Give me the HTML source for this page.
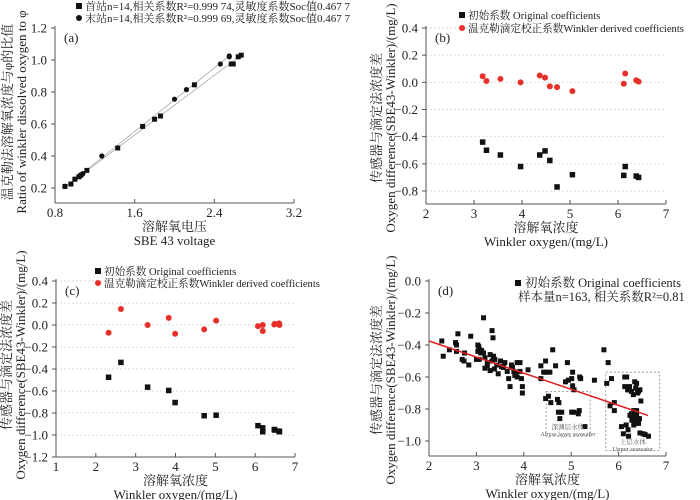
<!DOCTYPE html>
<html><head><meta charset="utf-8"><style>
html,body{margin:0;padding:0;background:#fff;width:700px;height:500px;overflow:hidden}
svg{display:block}
text{font-family:"Liberation Serif","Noto Serif CJK SC",serif;fill:#222}
</style></head><body>
<svg id="fig" width="700" height="500" viewBox="0 0 700 500"></svg>
<script>
// Panel (a)
const aSqX=[0.90,0.96,1.00,1.04,1.06,1.12,1.43,1.68,1.80,1.86,2.20,2.57,2.59,2.64,2.67];
const aSqY=[0.21,0.225,0.255,0.27,0.28,0.31,0.45,0.585,0.63,0.65,0.845,0.975,0.975,1.02,1.03];
const aCiX=[0.90,0.96,1.00,1.05,1.07,1.08,1.27,2.00,2.12,2.46,2.55,2.55];
const aCiY=[0.21,0.225,0.255,0.275,0.285,0.29,0.40,0.755,0.815,0.975,1.02,1.025];
const aLine1=[[0.90,0.205],[2.67,1.03]];
const aLine2=[[0.90,0.205],[2.55,1.025]];
// Panel (b)
const bX=[3.18,3.26,3.55,3.97,4.37,4.48,4.58,4.73,5.05,6.12,6.15,6.38,6.43];
const bRed=[0.045,0.01,0.025,0.0,0.05,0.035,-0.03,-0.035,-0.065,-0.01,0.065,0.015,0.005];
const bBlk=[-0.44,-0.50,-0.535,-0.62,-0.535,-0.505,-0.575,-0.77,-0.68,-0.685,-0.62,-0.69,-0.70];
// Panel (c)
const cX=[2.32,2.63,3.30,3.83,3.99,4.72,5.02,6.07,6.19,6.19,6.48,6.49,6.60,6.61];
const cRed=[-0.07,0.145,0.0,0.065,-0.08,-0.04,0.04,-0.01,0.0,-0.055,0.005,0.01,0.015,0.0];
const cBlk=[-0.475,-0.34,-0.565,-0.595,-0.705,-0.825,-0.82,-0.915,-0.935,-0.97,-0.95,-0.955,-0.965,-0.97];
// Panel (d)
const dX=[2.27,2.30,2.43,2.56,2.58,2.61,2.58,2.70,2.74,2.75,2.84,2.88,3.03,3.05,3.03,3.07,3.09,3.11,3.15,3.15,3.06,3.00,3.18,3.23,3.29,3.23,3.18,3.29,3.33,3.35,3.33,3.36,3.39,3.38,3.43,3.46,3.51,3.53,3.57,3.60,3.65,3.68,3.71,3.74,3.76,3.79,3.81,3.83,3.86,3.86,3.92,3.92,3.95,3.97,3.97,4.09,4.36,4.36,4.42,4.46,4.48,4.55,4.61,4.67,4.88,4.92,4.94,5.01,5.03,5.03,5.06,5.18,5.20,5.49,5.69,5.78,5.85,5.75,4.46,4.52,4.57,4.71,4.74,4.73,4.80,4.76,5.01,5.06,5.17,5.15,5.29,5.82,5.91,5.91,6.10,6.06,6.16,6.17,6.13,6.19,6.23,6.27,6.31,6.36,6.38,6.42,6.45,6.34,6.47,6.27,6.31,6.34,6.38,6.42,6.44,6.32,6.38,6.24,6.20,6.21,6.45,6.56,6.63,6.52,6.13,6.32,6.30,6.35,6.40,6.28,6.22,6.40];
const dY=[-0.375,-0.47,-0.43,-0.385,-0.40,-0.33,-0.44,-0.49,-0.50,-0.45,-0.525,-0.345,-0.40,-0.41,-0.44,-0.43,-0.45,-0.435,-0.45,-0.23,-0.49,-0.49,-0.48,-0.51,-0.46,-0.53,-0.545,-0.56,-0.31,-0.355,-0.50,-0.47,-0.49,-0.55,-0.525,-0.58,-0.50,-0.535,-0.54,-0.51,-0.565,-0.61,-0.66,-0.525,-0.54,-0.565,-0.59,-0.58,-0.51,-0.60,-0.51,-0.565,-0.61,-0.66,-0.70,-0.555,-0.53,-0.61,-0.57,-0.50,-0.57,-0.57,-0.43,-0.53,-0.63,-0.51,-0.62,-0.61,-0.57,-0.655,-0.68,-0.60,-0.61,-0.62,-0.43,-0.51,-0.61,-0.64,-0.735,-0.72,-0.76,-0.74,-0.76,-0.82,-0.82,-0.86,-0.82,-0.82,-0.81,-0.83,-0.91,-0.78,-0.76,-0.81,-0.955,-0.91,-0.90,-0.60,-0.66,-0.68,-0.66,-0.69,-0.71,-0.67,-0.64,-0.69,-0.68,-0.63,-0.75,-0.83,-0.85,-0.87,-0.84,-0.89,-0.86,-0.81,-0.81,-0.84,-0.93,-0.97,-0.95,-0.96,-0.97,-0.955,-0.60,-0.90,-0.86,-0.84,-0.88,-0.87,-0.68,-0.70];
const dFit=[[2.0,-0.375],[6.62,-0.84]];

const NS='http://www.w3.org/2000/svg';
const svg=document.getElementById('fig');
function mk(tag,attrs,parent,txt){const e=document.createElementNS(NS,tag);for(const k in attrs)e.setAttribute(k,attrs[k]);if(txt!==undefined)e.textContent=txt;(parent||svg).appendChild(e);return e;}

function panel(p){
  const g=mk('g',{});
  
  
  const sx=v=>p.x0+(v-p.xmin)/(p.xmax-p.xmin)*(p.x1-p.x0);
  const sy=v=>p.yA+(v-p.vA)/(p.vB-p.vA)*(p.yB-p.yA);
  p.sx=sx;p.sy=sy;
  if(p.grid){p.yt.forEach(v=>{if(Math.abs(sy(v)-p.bot)<2)return;const l=mk('line',{x1:p.x0,x2:p.x1,y1:sy(v),y2:sy(v),stroke:'#c8d0dc','stroke-width':0.7,'stroke-dasharray':'2,2'},g);});}
  const ya=mk('line',{x1:p.x0,x2:p.x0,y1:p.top,y2:p.bot,stroke:'#555','stroke-width':1},g);
  
  const xa=mk('line',{x1:p.x0,x2:p.x1,y1:p.bot,y2:p.bot,stroke:'#555','stroke-width':1},g);
  
  p.yt.forEach((v,i)=>{const y=sy(v);mk('line',{x1:p.x0-4,x2:p.x0,y1:y,y2:y,stroke:'#555'},g);
    const t=mk('text',{x:p.x0-8,y:y+4.5,'text-anchor':'end','font-size':13},g,p.ytl[i]);
    });
  p.xt.forEach((v,i)=>{const x=sx(v);mk('line',{x1:x,x2:x,y1:p.bot,y2:p.bot-4,stroke:'#555'},g);
    const t=mk('text',{x:x,y:p.bot+14,'text-anchor':'middle','font-size':13},g,p.xtl[i]);
    });
  const t1=mk('text',{x:(p.x0+p.x1)/2,y:p.bot+28,'text-anchor':'middle','font-size':13},g,p.xlab1);
  
  const t2=mk('text',{x:(p.x0+p.x1)/2,y:p.bot+42,'text-anchor':'middle','font-size':13},g,p.xlab2);
  
  const t3=mk('text',{x:0,y:0,'text-anchor':'middle','font-size':13,transform:`translate(${p.ylx1},${p.yly}) rotate(-90)`},g,p.ylab1);
  
  const t4=mk('text',{x:0,y:0,'text-anchor':'middle','font-size':13,transform:`translate(${p.ylx2},${p.yly}) rotate(-90)`},g,p.ylab2);
  
  const pl=mk('text',{x:p.x0+9,y:p.top+16,'font-size':13},g,'('+p.id+')');
  
  p.g=g;return p;
}
function sq(g,x,y,s,name){const r=mk('rect',{x:x-s/2,y:y-s/2,width:s,height:s,fill:'#111'},g);return r;}
function ci(g,x,y,r0,fill,name){const c=mk('circle',{cx:x,cy:y,r:r0,fill:fill},g);return c;}
function legend(g,x,y,kind,label,fs){
  if(kind==='sq')sq(g,x,y-4,6,'legend-marker');else ci(g,x,y-4,3,kind,'legend-marker');
  const t=mk('text',{x:x+6,y:y,'font-size':fs||11},g,label);
  
}

// (a)
const A=panel({id:'a',x0:55,x1:294,xmin:0.8,xmax:3.2,yA:188,vA:0.2,yB:28,vB:1.2,top:26,bot:203,
 xt:[0.8,1.6,2.4,3.2],xtl:['0.8','1.6','2.4','3.2'],yt:[0.2,0.4,0.6,0.8,1.0,1.2],ytl:['0.2','0.4','0.6','0.8','1.0','1.2'],
 xlab1:'溶解氧电压',xlab2:'SBE 43 voltage',ylx1:12,ylx2:26,yly:112,
 ylab1:'温克勒法溶解氧浓度与φ的比值',ylab2:'Ratio of winkler dissolved oxygen to φ'});
[aLine1,aLine2].forEach(L=>{const l=mk('line',{x1:A.sx(L[0][0]),y1:A.sy(L[0][1]),x2:A.sx(L[1][0]),y2:A.sy(L[1][1]),stroke:'#aaa','stroke-width':0.8},A.g);});
aSqX.forEach((v,i)=>sq(A.g,A.sx(v),A.sy(aSqY[i]),5,'point-first-station'));
aCiX.forEach((v,i)=>ci(A.g,A.sx(v),A.sy(aCiY[i]),2.6,'#111','point-last-station'));
legend(A.g,79,10,'sq','首站n=14,相关系数R²=0.999 74,灵敏度系数Soc值0.467 7');
legend(A.g,79,22,'#111','末站n=14,相关系数R²=0.999 69,灵敏度系数Soc值0.467 7');

const bt=[0.4,0.2,0,-0.2,-0.4,-0.6,-0.8];
// (b)
const B=panel({id:'b',x0:426,x1:666,xmin:2,xmax:7,yA:28,vA:0.4,yB:191,vB:-0.8,top:26,bot:204,
 xt:[2,3,4,5,6,7],xtl:['2','3','4','5','6','7'],yt:bt,ytl:['0.4','0.2','0.0','−0.2','−0.4','−0.6','−0.8'],grid:true,
 xlab1:'溶解氧浓度',xlab2:'Winkler oxygen/(mg/L)',ylx1:381,ylx2:395,yly:118,
 ylab1:'传感器与滴定法浓度差',ylab2:'Oxygen difference(SBE43-Winkler)/(mg/L)'});
bX.forEach((v,i)=>{sq(B.g,B.sx(v),B.sy(bBlk[i]),5.5,'point-original');ci(B.g,B.sx(v),B.sy(bRed[i]),3,'#e8302a','point-winkler');});
legend(B.g,462,19,'sq','初始系数 Original coefficients',10.6);
legend(B.g,462,32,'#e8302a','温克勒滴定校正系数Winkler derived coefficients',10.6);

// (c)
const C=panel({id:'c',x0:56,x1:295,xmin:1,xmax:7,yA:281,vA:0.4,yB:457,vB:-1.2,top:279,bot:457,
 xt:[1,2,3,4,5,6,7],xtl:['1','2','3','4','5','6','7'],yt:[0.4,0.2,0,-0.2,-0.4,-0.6,-0.8,-1.0,-1.2],ytl:['0.4','0.2','0.0','−0.2','−0.4','−0.6','−0.8','−1.0','−1.2'],grid:true,
 xlab1:'溶解氧浓度',xlab2:'Winkler oxygen/(mg/L)',ylx1:11,ylx2:25,yly:365,
 ylab1:'传感器与滴定法浓度差',ylab2:'Oxygen difference(SBE43-Winkler)/(mg/L)'});
cX.forEach((v,i)=>{sq(C.g,C.sx(v),C.sy(cBlk[i]),5.5,'point-original');ci(C.g,C.sx(v),C.sy(cRed[i]),3,'#e8302a','point-winkler');});
legend(C.g,98,275,'sq','初始系数 Original coefficients',10.6);
legend(C.g,98,287,'#e8302a','温克勒滴定校正系数Winkler derived coefficients',10.6);

// (d)
const D=panel({id:'d',x0:429,x1:666,xmin:2,xmax:7,yA:281,vA:0,yB:441,vB:-1.0,top:279,bot:456,
 xt:[2,3,4,5,6,7],xtl:['2','3','4','5','6','7'],yt:[0,-0.2,-0.4,-0.6,-0.8,-1.0],ytl:['0.0','−0.2','−0.4','−0.6','−0.8','−1.0'],
 xlab1:'溶解氧浓度',xlab2:'Winkler oxygen/(mg/L)',ylx1:381,ylx2:395,yly:370,
 ylab1:'传感器与滴定法浓度差',ylab2:'Oxygen difference(SBE43-Winkler)/(mg/L)'});
const box1=mk('rect',{x:D.sx(4.47),y:D.sy(-0.69),width:D.sx(5.4)-D.sx(4.47),height:D.sy(-0.97)-D.sy(-0.69),fill:'none',stroke:'#888','stroke-width':0.8,'stroke-dasharray':'2,2'},D.g);

const box2=mk('rect',{x:D.sx(5.73),y:D.sy(-0.57),width:D.sx(6.86)-D.sx(5.73),height:D.sy(-1.06)-D.sy(-0.57),fill:'none',stroke:'#888','stroke-width':0.8,'stroke-dasharray':'2,2'},D.g);

dX.forEach((v,i)=>sq(D.g,D.sx(v),D.sy(dY[i]),5,'point-original'));
const fl=mk('line',{x1:D.sx(dFit[0][0]),y1:D.sy(dFit[0][1]),x2:D.sx(dFit[1][0]),y2:D.sy(dFit[1][1]),stroke:'#e02020','stroke-width':1.5},D.g);

[[D.sx(4.93),429,'深渊层水体'],[D.sx(4.93),436,'Abyss layer seawater'],[D.sx(6.3),444,'上层水体'],[D.sx(6.3),451,'Upper seawater']].forEach(a=>{
 const t=mk('text',{x:a[0],y:a[1],'text-anchor':'middle','font-size':6.5,style:'fill:#555'},D.g,a[2]);
 });
sq(D.g,518,283,6,'legend-marker');
const l1=mk('text',{x:525,y:287,'font-size':12.5},D.g,'初始系数 Original coefficients');

const l2=mk('text',{x:518,y:301,'font-size':12.5},D.g,'样本量n=163, 相关系数R²=0.81');

</script>
</body></html>
